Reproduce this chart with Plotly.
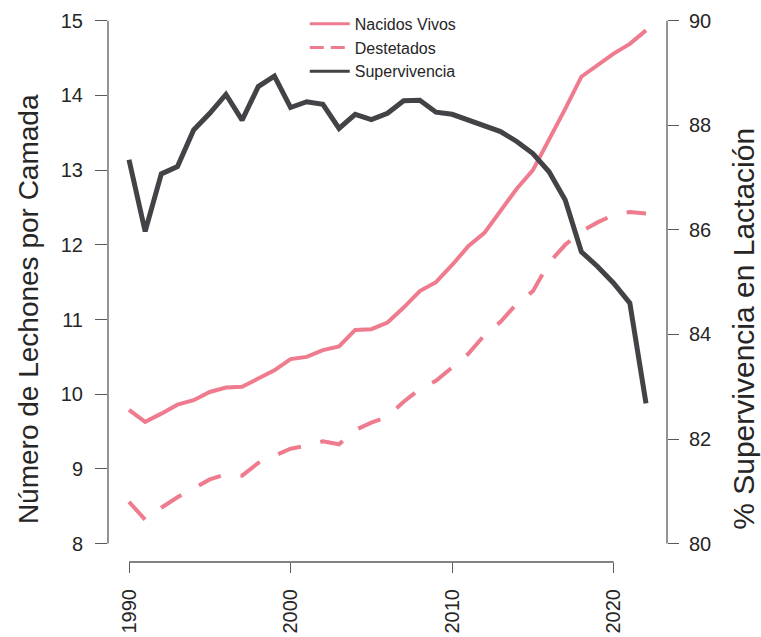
import plotly.graph_objects as go

years = list(range(1990, 2023))

nacidos_vivos = [9.79, 9.63, 9.74, 9.86, 9.92, 10.03, 10.09, 10.10, 10.21, 10.32,
                 10.47, 10.50, 10.59, 10.64, 10.86, 10.87, 10.96, 11.16, 11.38, 11.50,
                 11.73, 11.98, 12.16, 12.46, 12.75, 13.00, 13.40, 13.82, 14.25, 14.40,
                 14.56, 14.69, 14.87]

destetados = [8.56, 8.32, 8.48, 8.62, 8.74, 8.86, 8.93, 8.91, 9.08, 9.18,
              9.27, 9.31, 9.37, 9.33, 9.52, 9.62, 9.70, 9.90, 10.07, 10.18,
              10.36, 10.54, 10.79, 10.97, 11.21, 11.38, 11.76, 12.00, 12.18, 12.30,
              12.40, 12.44, 12.42]

supervivencia = [87.34, 85.97, 87.07, 87.21, 87.91, 88.23, 88.59, 88.10, 88.74, 88.94,
                 88.34, 88.45, 88.40, 87.94, 88.21, 88.11, 88.23, 88.47, 88.48, 88.25,
                 88.21, 88.10, 87.97, 87.88, 87.69, 87.46, 87.11, 86.57, 85.58, 85.30,
                 84.98, 84.60, 82.68]

series_names = ["Nacidos Vivos", "Destetados", "Supervivencia"]

x_ticks = [1990, 2000, 2010, 2020]
y_ticks = [8, 9, 10, 11, 12, 13, 14, 15]
y2_ticks = [80, 82, 84, 86, 88, 90]

PINK = "#EF7B8E"
DARK = "#434347"
AXIS = "#5a5a5a"
TEXT = "#262626"
FONT = "Liberation Sans, Arial, Helvetica, sans-serif"

fig = go.Figure()
# data lines
fig.add_trace(go.Scatter(x=years, y=nacidos_vivos, mode="lines", name=series_names[0],
                         line=dict(color=PINK, width=4), showlegend=False))
fig.add_trace(go.Scatter(x=years, y=destetados, mode="lines", name=series_names[1],
                         line=dict(color=PINK, width=4, dash="24px,20px"), showlegend=False))
fig.add_trace(go.Scatter(x=years, y=supervivencia, mode="lines", name=series_names[2],
                         line=dict(color=DARK, width=5), yaxis="y2", showlegend=False))

# legend entries (thinner keys, as in the R legend)
fig.add_trace(go.Scatter(x=[None], y=[None], mode="lines", name=series_names[0],
                         line=dict(color=PINK, width=3)))
fig.add_trace(go.Scatter(x=[None], y=[None], mode="lines", name=series_names[1],
                         line=dict(color=PINK, width=3, dash="14px,7px")))
fig.add_trace(go.Scatter(x=[None], y=[None], mode="lines", name=series_names[2],
                         line=dict(color=DARK, width=3)))

fig.update_layout(
    width=761, height=637,
    margin=dict(l=108, r=94, t=0, b=75),
    paper_bgcolor="white", plot_bgcolor="white",
    font=dict(family=FONT, color=TEXT, size=20),
    xaxis=dict(range=[1988.70, 2023.30], tickvals=x_ticks, tickangle=-90,
               ticks="outside", ticklen=10, tickwidth=1.3, tickcolor=AXIS,
               showline=False, showgrid=False, zeroline=False, automargin=False,
               tickfont=dict(size=20), ticklabelstandoff=8),
    yaxis=dict(range=[7.754, 15.277], tickvals=y_ticks,
               ticks="outside", ticklen=12, tickwidth=1.3, tickcolor=AXIS,
               showline=False, showgrid=False, zeroline=False, automargin=False,
               tickfont=dict(size=20), ticklabelstandoff=8),
    yaxis2=dict(range=[79.648, 90.396], tickvals=y2_ticks, overlaying="y", side="right",
                ticks="outside", ticklen=11, tickwidth=1.3, tickcolor=AXIS,
                showline=False, showgrid=False, zeroline=False, automargin=False,
                tickfont=dict(size=20), ticklabelstandoff=6),
    legend=dict(x=0.352, y=0.988, xanchor="left", yanchor="top",
                bgcolor="rgba(0,0,0,0)", font=dict(size=16, color=TEXT),
                itemwidth=40, tracegroupgap=0),
    showlegend=True,
)

# R-style axis lines spanning only the tick range
fig.add_shape(type="line", xref="x", yref="paper", x0=x_ticks[0], x1=x_ticks[-1], y0=0, y1=0,
              line=dict(color=AXIS, width=1.3))
fig.add_shape(type="line", xref="paper", yref="y", x0=0, x1=0, y0=y_ticks[0], y1=y_ticks[-1],
              line=dict(color=AXIS, width=1.3))
fig.add_shape(type="line", xref="paper", yref="y2", x0=1, x1=1, y0=y2_ticks[0], y1=y2_ticks[-1],
              line=dict(color=AXIS, width=1.3))

fig.add_annotation(text="Número de Lechones por Camada", xref="paper", yref="paper",
                   x=0, y=0.45, xshift=-80, xanchor="center", yanchor="middle",
                   textangle=-90, showarrow=False, font=dict(size=28, color=TEXT))
fig.add_annotation(text="% Supervivencia en Lactación", xref="paper", yref="paper",
                   x=1, y=0.415, xshift=77, xanchor="center", yanchor="middle",
                   textangle=-90, showarrow=False, font=dict(size=30, color=TEXT))

fig.write_html("out.html",
               config={"displayModeBar": False},
               post_script="document.body.style.margin='0';document.body.style.padding='0';")
